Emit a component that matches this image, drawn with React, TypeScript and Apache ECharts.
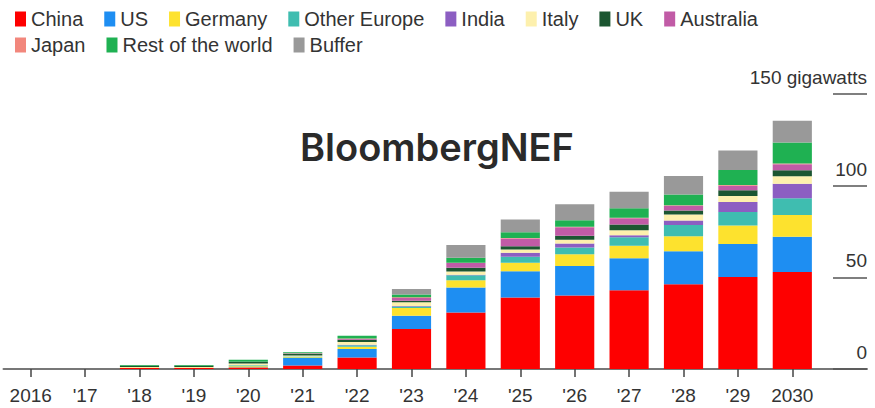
import React, { useEffect, useRef } from "react";
import * as echarts from "echarts";

const categories = ["2016", "'17", "'18", "'19", "'20", "'21", "'22", "'23", "'24", "'25", "'26", "'27", "'28", "'29", "2030"];

const china = [0, 0, 0.6, 0.5, 0.8, 1.9, 6.3, 21.8, 30.8, 39.0, 40.1, 43.0, 46.2, 50.2, 52.9];
const us = [0, 0, 0, 0, 0.2, 4.1, 4.6, 7.3, 13.6, 14.3, 16.1, 17.4, 18.0, 18.0, 19.2];
const germany = [0, 0, 0.2, 0.3, 0.5, 0.4, 1.3, 4.2, 4.0, 4.6, 6.4, 6.8, 8.2, 10.1, 11.9];
const otherEurope = [0, 0, 0, 0, 0.5, 0.4, 0.8, 0.8, 2.7, 3.3, 3.7, 4.6, 6.2, 7.3, 9.2];
const india = [0, 0, 0, 0, 0, 0, 0.2, 0.3, 0.3, 2.2, 2.2, 1.2, 2.4, 5.5, 7.9];
const italy = [0, 0, 0.3, 0.3, 1.0, 0.6, 1.5, 2.0, 1.8, 1.8, 2.0, 2.7, 3.3, 3.3, 4.0];
const uk = [0, 0, 0.7, 0.7, 0.8, 0.8, 1.2, 0.8, 2.0, 1.8, 2.2, 3.1, 2.2, 3.1, 3.3];
const australia = [0, 0, 0, 0, 0.2, 0.2, 0.4, 1.5, 2.6, 4.2, 4.6, 3.4, 2.5, 2.5, 3.3];
const japan = [0, 0, 0, 0, 0, 0.2, 0.3, 0.5, 0.2, 0.3, 0.3, 0.3, 0.3, 0.3, 0.4];
const restOfWorld = [0, 0, 0.4, 0.4, 1.0, 0.5, 1.5, 1.5, 2.7, 3.1, 3.6, 5.2, 5.9, 8.2, 11.4];
const buffer = [0, 0, 0, 0, 0, 0, 0, 3.0, 6.9, 6.9, 8.6, 9.0, 10.1, 10.7, 11.9];

const seriesNames = ["China", "US", "Germany", "Other Europe", "India", "Italy", "UK", "Australia", "Japan", "Rest of the world", "Buffer"];
const seriesData = [china, us, germany, otherEurope, india, italy, uk, australia, japan, restOfWorld, buffer];
const seriesColors = ["#fe0000", "#1e8ef2", "#fde22e", "#3fbdb0", "#8c5ec2", "#fdf0ad", "#1b5631", "#c15ba6", "#f2877c", "#1fb152", "#999999"];

const axisTicks = [0, 50, 100, 150];
const unitLabel = "gigawatts";

const FONT = "'Liberation Sans', Arial, Helvetica, sans-serif";

export default function App() {
  const ref = useRef<HTMLDivElement>(null);

  useEffect(() => {
    document.body.style.margin = "0";
    if (!ref.current) return;
    const chart = echarts.init(ref.current, undefined, { renderer: "svg" });

    const legendStyle = {
      left: 10,
      itemWidth: 11,
      itemHeight: 15,
      itemGap: 21,
      icon: "rect",
      textStyle: { fontSize: 20, color: "#333", fontFamily: FONT },
      selectedMode: false as const,
    };

    const option: any = {
      animation: false,
      backgroundColor: "#ffffff",
      legend: [
        { ...legendStyle, top: 4, data: seriesNames.slice(0, 8) },
        { ...legendStyle, top: 30, data: seriesNames.slice(8) },
      ],
      grid: [
        { left: 3.5, width: 816, top: 94, bottom: 39 },
        { left: 8, right: 8, top: 94, bottom: 39 },
      ],
      xAxis: [
        {
          type: "category",
          gridIndex: 0,
          data: categories,
          axisLine: { show: true, lineStyle: { color: "#777", width: 2 } },
          axisTick: { show: true, alignWithLabel: true, length: 8, lineStyle: { color: "#444", width: 1.5 } },
          axisLabel: { fontSize: 19, color: "#333", fontFamily: FONT, margin: 17, interval: 0 },
        },
        {
          type: "category",
          gridIndex: 1,
          data: [""],
          axisLine: { show: true, lineStyle: { color: "#777", width: 2 } },
          axisTick: { show: false },
          axisLabel: { show: false },
          splitLine: { show: false },
        },
      ],
      yAxis: [
        {
          type: "value",
          gridIndex: 0,
          min: 0,
          max: 150,
          interval: 50,
          show: false,
          splitLine: { show: false },
        },
        {
          type: "value",
          gridIndex: 1,
          position: "right",
          min: axisTicks[0],
          max: axisTicks[axisTicks.length - 1],
          interval: 50,
          axisLine: { show: false, onZero: false },
          axisTick: { show: true, inside: true, length: 34, lineStyle: { color: "#555", width: 1.5 } },
          splitLine: { show: false },
          axisLabel: {
            inside: true,
            margin: 0,
            fontSize: 19,
            color: "#333",
            fontFamily: FONT,
            verticalAlign: "bottom",
            padding: [0, 0, 7, 0],
            formatter: (v: number) => (v === axisTicks[axisTicks.length - 1] ? `${v} ${unitLabel}` : `${v}`),
          },
        },
      ],
      graphic: [
        {
          type: "text",
          left: 300,
          top: 128,
          style: {
            text: "BloombergNEF",
            font: "600 38px Inter, 'Noto Sans', sans-serif",
            fill: "#2a2a2a",
          },
        },
      ],
      series: seriesNames.map((name, i) => ({
        name,
        type: "bar",
        stack: "total",
        xAxisIndex: 0,
        yAxisIndex: 0,
        barWidth: "72%",
        data: seriesData[i],
        itemStyle: { color: seriesColors[i] },
      })),
    };

    chart.setOption(option);
    return () => chart.dispose();
  }, []);

  return <div ref={ref} style={{ width: 875, height: 408 }} />;
}
